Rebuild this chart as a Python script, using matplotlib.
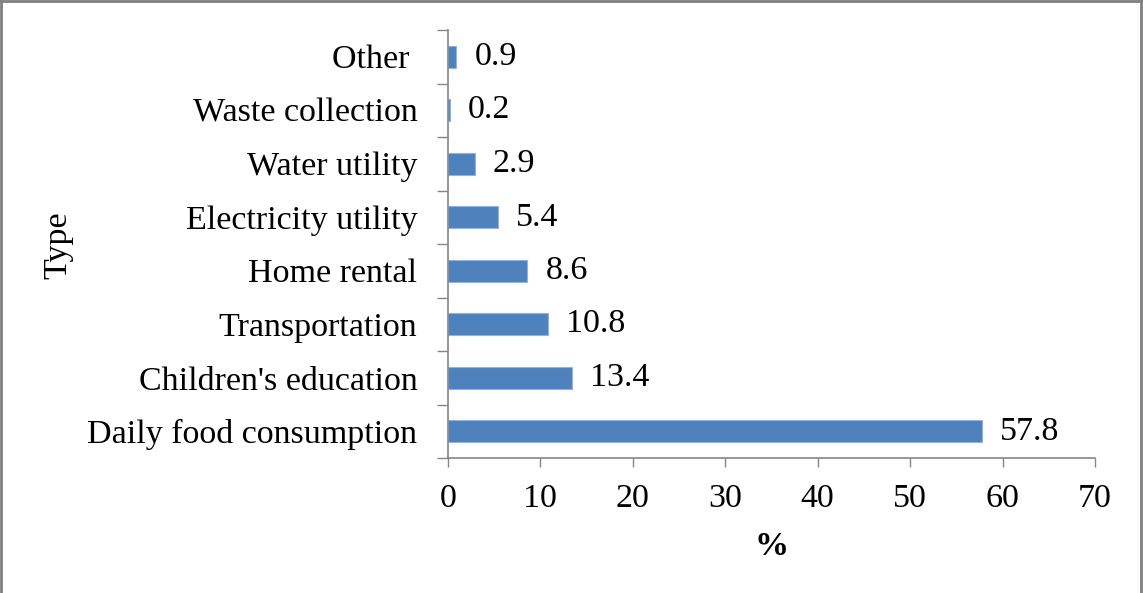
import matplotlib.pyplot as plt
from matplotlib.lines import Line2D
import numpy as np

categories = ["Daily food consumption", "Children's education", "Transportation",
              "Home rental", "Electricity utility", "Water utility",
              "Waste collection", "Other "]
values = [57.8, 13.4, 10.8, 8.6, 5.4, 2.9, 0.2, 0.9]
xticks = [0, 10, 20, 30, 40, 50, 60, 70]

plt.rcParams['font.family'] = ['Liberation Serif', 'DejaVu Serif']
fs = 24.5

fig = plt.figure(figsize=(11.43, 5.93), dpi=100)
ax = fig.add_axes([448 / 1143, 1 - 458 / 593, (1095 - 448) / 1143, (458 - 30) / 593])

y = np.arange(len(categories))
ax.barh(y, values, height=0.41, color='#4F81BD', edgecolor='#8EB4E3', linewidth=0.8)

for yi, v in zip(y, values):
    ax.annotate(f"{v:.1f}", (v, yi), xytext=(13, 0), textcoords='offset points',
                va='center', ha='left', fontsize=fs)

ax.set_xlim(0, 70)
ax.set_ylim(-0.5, len(categories) - 0.5)
ax.set_xticks(xticks)
ax.set_xticklabels([str(t) for t in xticks], fontsize=fs)
ax.set_yticks(y)
ax.set_yticklabels(categories, fontsize=fs)
ax.tick_params(axis='y', length=0, pad=22)
ax.set_yticks(np.arange(-0.5, len(categories), 1), minor=True)
ax.tick_params(axis='y', which='minor', length=8, width=1, color='#868686', direction='out')
ax.tick_params(axis='x', length=6.5, width=1, color='#868686', direction='out', pad=12)

for s in ['top', 'right']:
    ax.spines[s].set_visible(False)
for s in ['left', 'bottom']:
    ax.spines[s].set_color('#868686')
    ax.spines[s].set_linewidth(1.2)

ax.set_xlabel('%', fontsize=fs, fontweight='bold', labelpad=12)
fig.text(58 / 1143, 1 - 245 / 593, 'Type', rotation=90, fontsize=fs,
         ha='center', va='center')

# outer frame of the picture
frame = dict(color='#7F7F7F', linewidth=2, transform=fig.transFigure)
fig.add_artist(Line2D([0.001, 0.001], [0, 0.998], **frame))
fig.add_artist(Line2D([0.001, 0.998], [0.998, 0.998], **frame))
fig.add_artist(Line2D([0.998, 0.998], [0, 0.998], **frame))

fig.savefig('out.png', dpi=100)
